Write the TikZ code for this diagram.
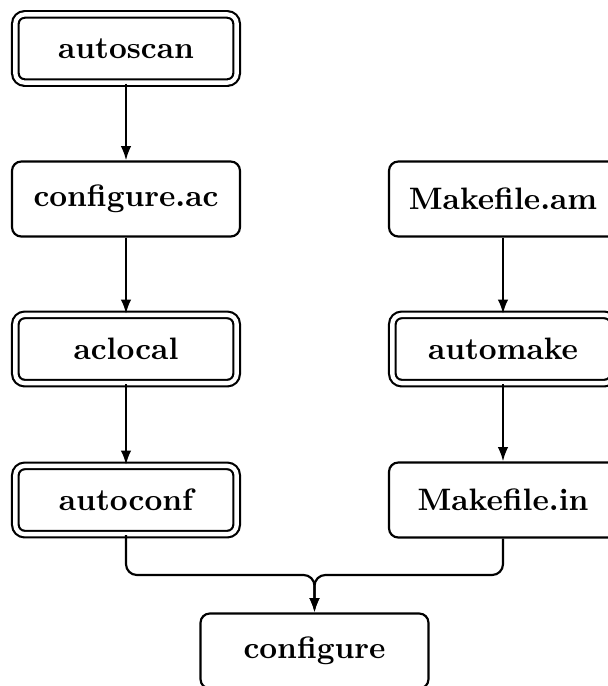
\documentclass[tikz,border=0pt]{standalone}
\usetikzlibrary{arrows.meta}
\begin{document}
\begin{tikzpicture}[x=0.3226pt,y=-0.3226pt,
  every node/.style={font=\bfseries},
  plainbox/.style={draw, line width=0.7pt, rounded corners=3pt,
    minimum width=73.55pt, minimum height=24.2pt, inner sep=0pt},
  dblbox/.style={draw, line width=0.7pt, double, double distance=1.4pt,
    rounded corners=3pt, minimum width=71.4pt, minimum height=22pt, inner sep=0pt},
  flow/.style={line width=0.7pt, -{Latex[length=4.6pt,width=3.4pt]}}]
\useasboundingbox (0,0) rectangle (608,686);
\clip (0,0) rectangle (608,686);
\node[dblbox]   (autoscan)  at (126,48.5)  {autoscan};
\node[plainbox] (confac)    at (126,199)   {configure.ac};
\node[dblbox]   (aclocal)   at (126,349)   {aclocal};
\node[dblbox]   (autoconf)  at (126,500)   {autoconf};
\node[plainbox] (makeam)    at (503,199)   {Makefile.am};
\node[dblbox]   (automake)  at (503,349)   {automake};
\node[plainbox] (makein)    at (503,500)   {Makefile.in};
\node[plainbox] (configure) at (314.5,651) {configure};
\coordinate (j) at (314.5,575);
\draw[flow] (autoscan) -- (confac);
\draw[flow] (confac) -- (aclocal);
\draw[flow] (aclocal) -- (autoconf);
\draw[flow] (makeam) -- (automake);
\draw[flow] (automake) -- (makein);
\draw[flow, rounded corners=3.5pt] (autoconf.south) |- (j) -- (configure.north);
\draw[flow, rounded corners=3.5pt] (makein.south) |- (j) -- (configure.north);
\end{tikzpicture}
\end{document}
